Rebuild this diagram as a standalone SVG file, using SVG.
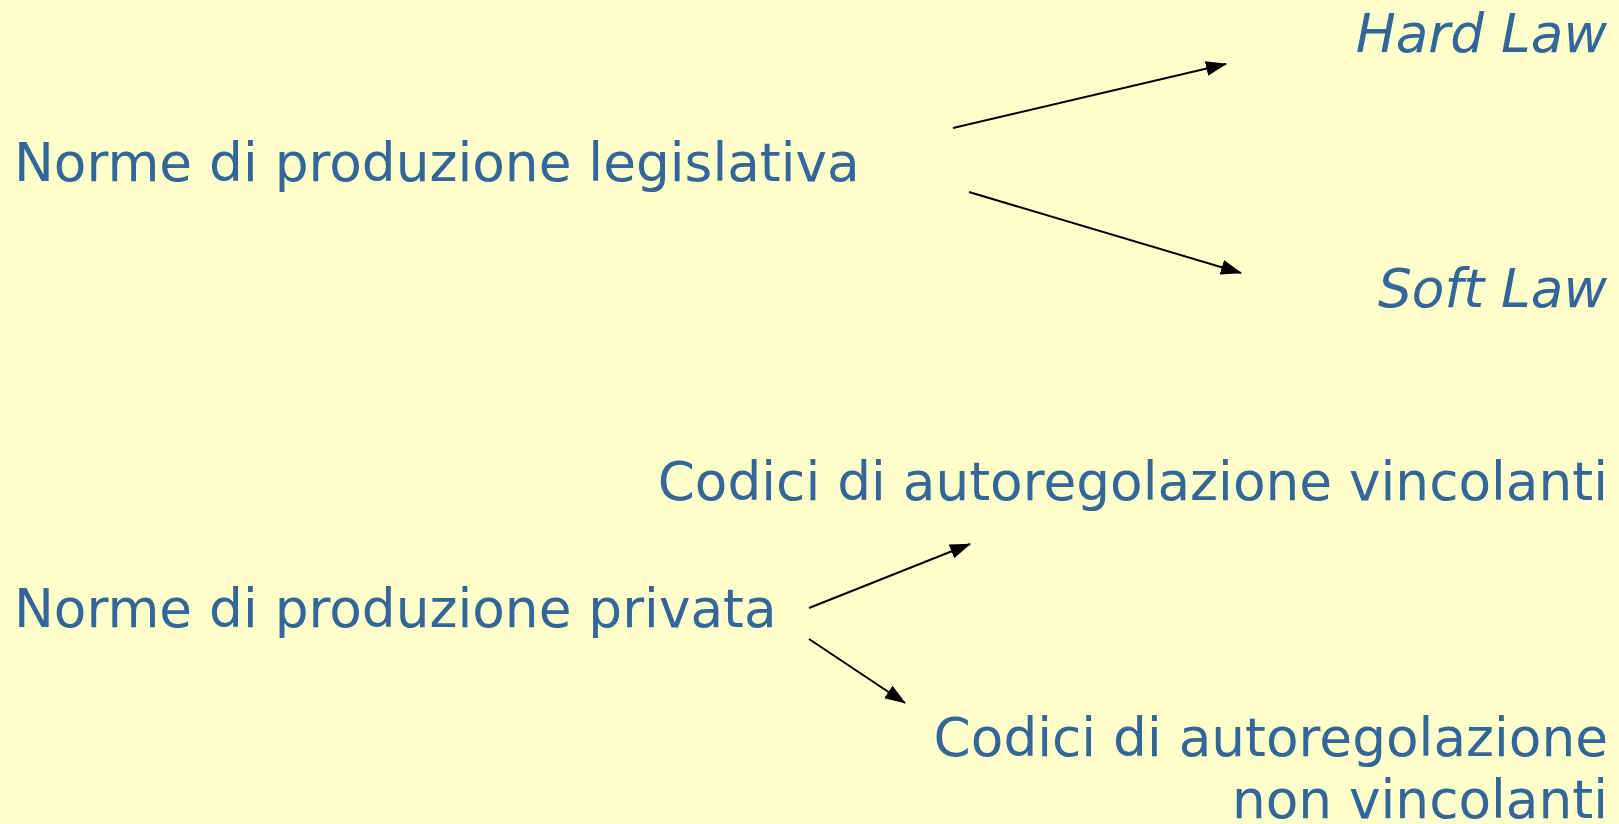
<svg xmlns="http://www.w3.org/2000/svg" width="1619" height="824" viewBox="0 0 1619 824">
  <style>
    .t { font-family: "DejaVu Sans", Verdana, sans-serif; font-size: 53.3px; fill: #336699; }
    .r { text-anchor: end; }
    .i { font-style: italic; }
    .c { stroke: #000; stroke-width: 2; fill: none; marker-end: url(#ah); }
  </style>
  <defs>
    <marker id="ah" markerUnits="userSpaceOnUse" markerWidth="22" markerHeight="16" refX="20" refY="7.5" orient="auto">
      <path d="M0,0 L21,7.5 L0,15 z" fill="#000"/>
    </marker>
  </defs>
  <rect width="1619" height="824" fill="#FFFFCC"/>
  <g id="n1"><text class="t" x="14" y="181">Norme di produzione legislativa</text></g>
  <g id="n2"><text class="t r i" x="1607" y="52">Hard Law</text></g>
  <g id="n3"><text class="t r i" x="1607" y="307">Soft Law</text></g>
  <g id="n4"><text class="t" x="14" y="627">Norme di produzione privata</text></g>
  <g id="n5"><text class="t r" x="1608" y="500">Codici di autoregolazione vincolanti</text></g>
  <g id="n6"><text class="t r" x="1608" y="756">Codici di autoregolazione</text><text class="t r" x="1608" y="818">non vincolanti</text></g>
  <g id="connectors">
    <line class="c" x1="953" y1="128" x2="1226" y2="64"/>
    <line class="c" x1="969" y1="192" x2="1241" y2="273"/>
    <line class="c" x1="809" y1="608" x2="970" y2="544"/>
    <line class="c" x1="809" y1="639" x2="905" y2="703"/>
  </g>
</svg>
